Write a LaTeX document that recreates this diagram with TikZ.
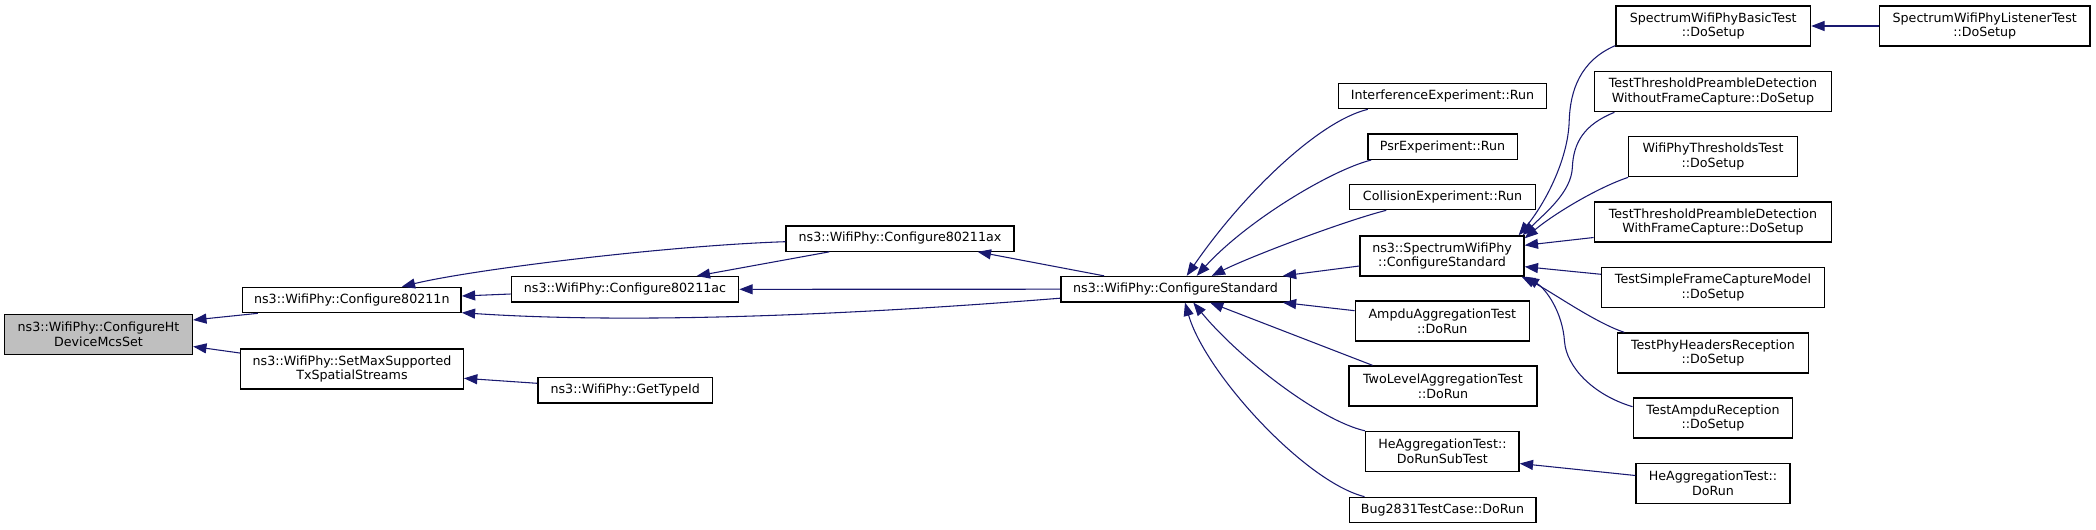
\documentclass[tikz,border=0pt]{standalone}
\usepackage{fontspec}
\setmainfont{DejaVu Sans}
\usetikzlibrary{arrows.meta,calc}
\definecolor{edgeblue}{HTML}{191970}
\definecolor{rootgray}{HTML}{BFBFBF}
\begin{document}
\begin{tikzpicture}[x=0.75pt,y=-0.75pt,
  fn/.style={draw=black, line width=1pt, fill=white, inner sep=0pt, align=center,
    font=\fontsize{9.5}{11.2}\selectfont},
  root/.style={fn, fill=rootgray},
  one/.style={minimum height=19pt},
  two/.style={minimum height=30pt},
  edge/.style={draw=edgeblue, line width=0.8pt, -{Triangle[length=10pt,width=7.5pt]}}]
\useasboundingbox (0,0) rectangle (2096,529);
% nodes (centres in pixels of the reference)
\node[root, two, minimum width=141pt] (ht) at (98.5,334.5) {ns3::WifiPhy::ConfigureHt\\DeviceMcsSet};
\node[fn, one, minimum width=164pt] (n) at (351.8,300) {ns3::WifiPhy::Configure80211n};
\node[fn, two, minimum width=167pt] (smax) at (352,369) {ns3::WifiPhy::SetMaxSupported\\TxSpatialStreams};
\node[fn, one, minimum width=170.5pt] (ac) at (625,289.3) {ns3::WifiPhy::Configure80211ac};
\node[fn, one, minimum width=171pt] (ax) at (900,238.5) {ns3::WifiPhy::Configure80211ax};
\node[fn, one, minimum width=131pt] (gt) at (625.2,390.3) {ns3::WifiPhy::GetTypeId};
\node[fn, one, minimum width=172pt] (cs) at (1175.5,289.2) {ns3::WifiPhy::ConfigureStandard};
\node[fn, one, minimum width=156pt] (ie) at (1442.5,96) {InterferenceExperiment::Run};
\node[fn, one, minimum width=112pt] (psr) at (1442.5,146.7) {PsrExperiment::Run};
\node[fn, one, minimum width=139.5pt] (coll) at (1442.5,197) {CollisionExperiment::Run};
\node[fn, two, minimum width=123pt] (scs) at (1442,256) {ns3::SpectrumWifiPhy\\::ConfigureStandard};
\node[fn, two, minimum width=130.5pt] (ampdu) at (1442.3,321) {AmpduAggregationTest\\::DoRun};
\node[fn, two, minimum width=141pt] (twol) at (1442.9,386) {TwoLevelAggregationTest\\::DoRun};
\node[fn, two, minimum width=115pt] (hesub) at (1442.4,451.5) {HeAggregationTest::\\DoRunSubTest};
\node[fn, one, minimum width=140pt] (bug) at (1442.5,510) {Bug2831TestCase::DoRun};
\node[fn, two, minimum width=146pt] (basic) at (1713.2,26) {SpectrumWifiPhyBasicTest\\::DoSetup};
\node[fn, two, minimum width=158pt] (listen) at (1984.7,26) {SpectrumWifiPhyListenerTest\\::DoSetup};
\node[fn, two, minimum width=178pt] (wofc) at (1713,91.7) {TestThresholdPreambleDetection\\WithoutFrameCapture::DoSetup};
\node[fn, two, minimum width=126.3pt] (thr) at (1713,156.7) {WifiPhyThresholdsTest\\::DoSetup};
\node[fn, two, minimum width=178pt] (wfc) at (1713,222) {TestThresholdPreambleDetection\\WithFrameCapture::DoSetup};
\node[fn, two, minimum width=167pt] (sfc) at (1713,287.5) {TestSimpleFrameCaptureModel\\::DoSetup};
\node[fn, two, minimum width=143pt] (phh) at (1713,353) {TestPhyHeadersReception\\::DoSetup};
\node[fn, two, minimum width=119.7pt] (ampr) at (1713,418) {TestAmpduReception\\::DoSetup};
\node[fn, two, minimum width=115.5pt] (herun) at (1713,483.5) {HeAggregationTest::\\DoRun};
% edges (arrow at the called function)
\draw[edge] ($(n.south west)+(16,0)$) -- ($(ht.east)+(0,-14.5)$);
\draw[edge] ($(smax.north west)+(0,4.7)$) -- ($(ht.east)+(0,12)$);
\draw[edge] ($(ac.west)+(0,4.7)$) -- ($(n.east)+(0,-4)$);
\draw[edge] ($(ax.west)+(0,3.2)$) .. controls +(-120,4) and +(70,-17) .. ($(n.north)+(50,0)$);
\draw[edge] ($(cs.west)+(0,9)$) .. controls +(-250,20) and +(150,10) .. ($(n.east)+(0,12.7)$);
\draw[edge] ($(ax.south west)+(44,0)$) -- ($(ac.north)+(71.7,0)$);
\draw[edge] (cs.west) -- (ac.east);
\draw[edge] ($(cs.north west)+(44,0)$) -- ($(ax.south east)+(-37,0)$);
\draw[edge] ($(gt.west)+(0,-7)$) -- ($(smax.east)+(0,9.3)$);
\draw[edge] ($(ie.south west)+(30,0)$) .. controls +(-50,12) and +(55,-80) .. ($(cs.north)+(11.2,0)$);
\draw[edge] ($(psr.south west)+(4,0)$) .. controls +(-40,10) and +(50,-55) .. ($(cs.north)+(21.2,0)$);
\draw[edge] ($(coll.south west)+(37.4,0)$) .. controls +(-40,10) and +(40,-20) .. ($(cs.north)+(36.2,0)$);
\draw[edge] ($(scs.west)+(0,10)$) -- ($(cs.north east)+(-8,0)$);
\draw[edge] ($(ampdu.west)+(0,-10.3)$) -- ($(cs.south east)+(-8,0)$);
\draw[edge] ($(twol.north west)+(24.3,0)$) -- ($(cs.south)+(34.5,0)$);
\draw[edge] (hesub.north west) .. controls +(-45,-10) and +(45,55) .. ($(cs.south)+(17.8,0)$);
\draw[edge] ($(bug.north west)+(16,0)$) .. controls +(-60,-15) and +(20,70) .. ($(cs.south)+(9.5,0)$);
\draw[edge] ($(herun.west)+(0,-8)$) -- ($(hesub.east)+(0,12)$);
\draw[edge] ($(basic.south west)+(0,-1)$) .. controls +(-35,15) and +(1,-30) .. ++(-46,75) .. controls +(-1,40) and +(25,-30) .. ($(scs.north east)+(-6,0)$);
\draw[edge] ($(wofc.south west)+(20.7,0)$) .. controls +(-30,12) and +(1,-25) .. ++(-42,55) .. controls +(-1,25) and +(22,-22) .. ($(scs.north east)+(-2,0)$);
\draw[edge] (thr.south west) .. controls +(-30,10) and +(30,-25) .. ($(scs.north east)+(0,3)$);
\draw[edge] ($(wfc.west)+(0,15.5)$) -- ($(scs.east)+(0,-10.7)$);
\draw[edge] ($(sfc.west)+(0,-13.2)$) -- ($(scs.east)+(0,10.7)$);
\draw[edge] ($(phh.north west)+(7.3,0)$) .. controls +(-30,-10) and +(30,15) .. ($(scs.south east)+(-3,0)$);
\draw[edge] ($(ampr.west)+(0,-11.3)$) .. controls +(-40,-12) and +(2,25) .. ++(-68,-65) .. controls +(-2,-30) and +(20,12) .. ($(scs.south east)+(1,0)$);
\draw[edge] (listen.west) -- (basic.east);
\end{tikzpicture}
\end{document}
